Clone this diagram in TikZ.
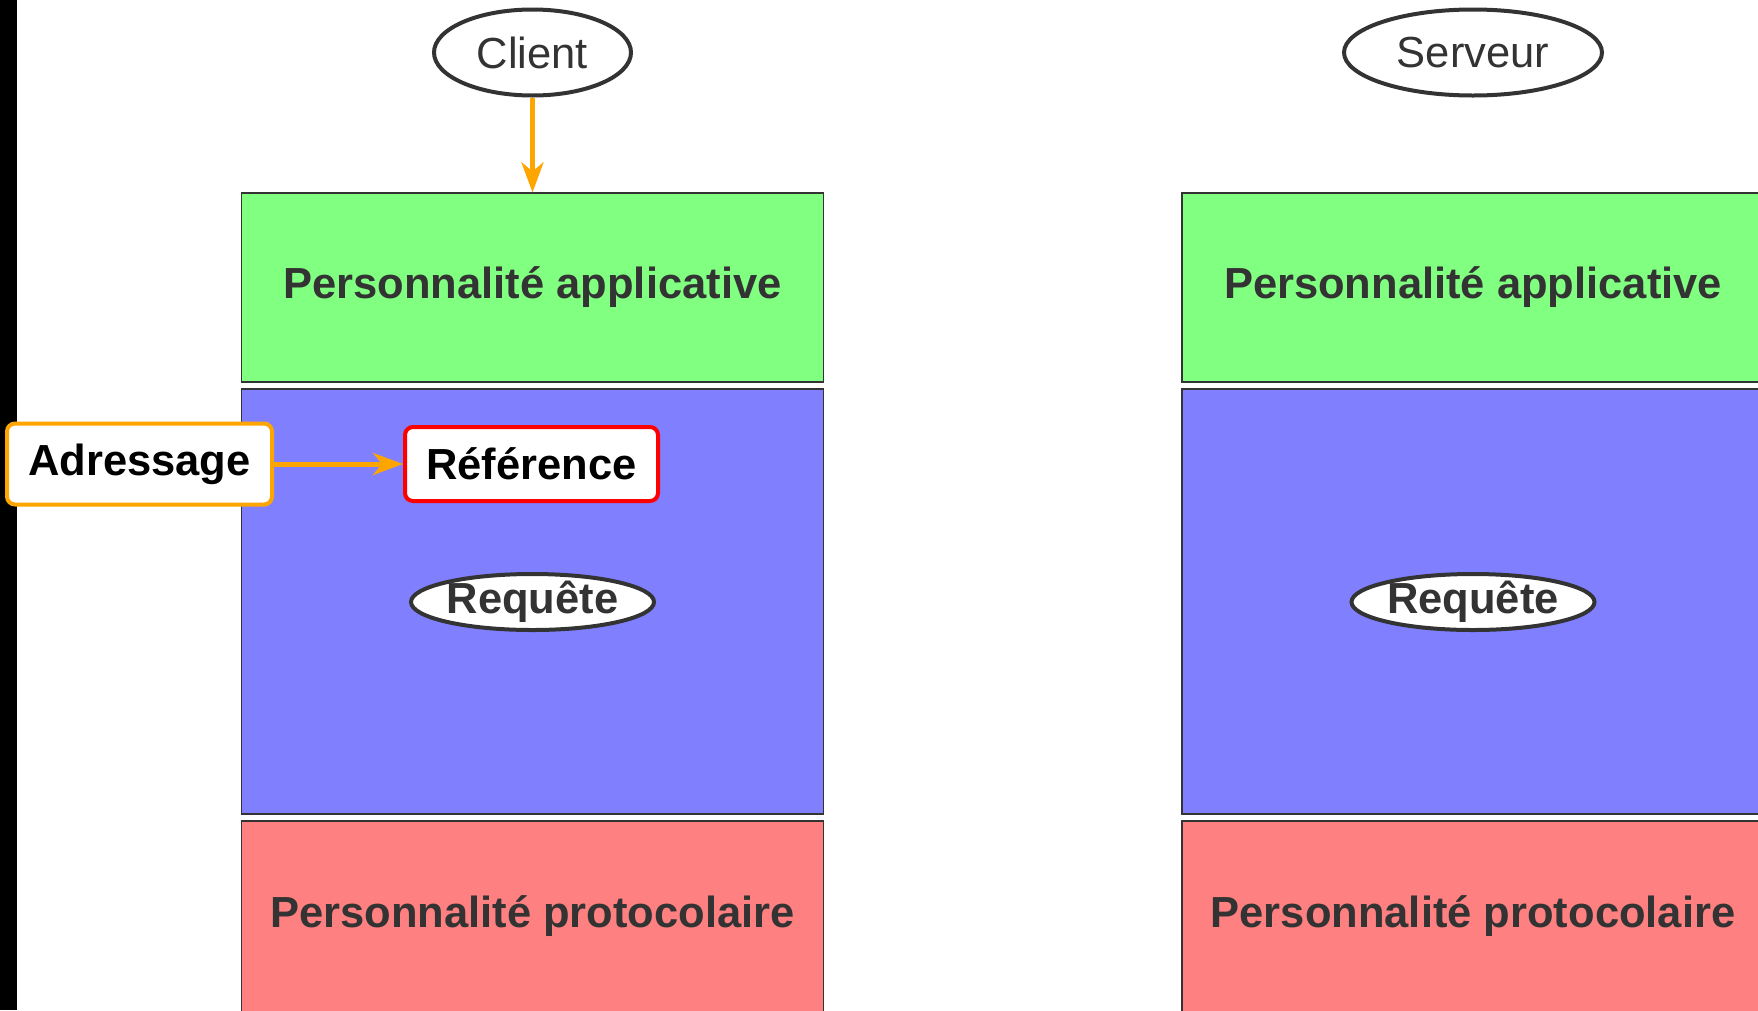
\documentclass[tikz,border=0pt]{standalone}
\usepackage{fontspec}
\setmainfont{Liberation Sans}
\usepackage{tikz}
\usetikzlibrary{arrows.meta,shapes.geometric}
\definecolor{txtgray}{HTML}{333333}
\definecolor{appgreen}{HTML}{80FF80}
\definecolor{reqblue}{HTML}{8080FF}
\definecolor{protored}{HTML}{FF8080}
\definecolor{arrorange}{HTML}{FFA500}

\begin{document}
\begin{tikzpicture}[x=1pt,y=1pt]
\tikzstyle{every node}+=[inner sep=0pt, text=txtgray, font=\fontsize{43.5}{52}\selectfont]
\tikzstyle{layer}=[rectangle, draw=txtgray, line width=1.2pt, minimum width=582pt, font=\fontsize{43.5}{52}\selectfont\bfseries]
\tikzstyle{actor}=[ellipse, draw=txtgray, line width=4pt, fill=white, inner ysep=-2pt]
\tikzstyle{tag}=[rectangle, rounded corners=8pt, line width=4pt, fill=white, text=black, font=\fontsize{43.5}{52}\selectfont\bfseries]
\tikzstyle{link}=[draw=arrorange, line width=5pt, -{Stealth[length=30pt,width=22pt,inset=9pt]}]
\useasboundingbox (0,0) rectangle (1758,-1010);
\clip (0,0) rectangle (1758,-1010);
\fill [black] (0,0) rectangle (17,-1010);
% client side
\node [actor, minimum width=197pt, minimum height=86pt] (client) at (532.5,-52.5) {Client};
\node [layer, fill=appgreen, minimum height=189pt] (appL) at (532.5,-287.5) {Personnalité applicative};
\node [layer, fill=reqblue, minimum height=425pt] (midL) at (532.5,-601.5) {};
\node [layer, fill=protored, minimum height=191pt] (protoL) at (532.5,-916.5) {Personnalité protocolaire};
\node [actor, minimum width=243pt, minimum height=56pt, font=\fontsize{43.5}{52}\selectfont\bfseries] (reqL) at (532.5,-602) {Requête};
\node [tag, draw=red, minimum width=253pt, minimum height=74pt] (ref) at (531.5,-464) {Référence};
\node [tag, draw=arrorange, minimum width=265pt, minimum height=81pt] (adr) at (139.5,-464) {Adressage};
\draw [link] (client.south) -- (appL.north);
\draw [link] (adr.east) -- (ref.west);
% server side
\node [actor, minimum width=258pt, minimum height=86pt] (server) at (1473,-52.5) {Serveur};
\node [layer, fill=appgreen, minimum height=189pt] (appR) at (1473,-287.5) {Personnalité applicative};
\node [layer, fill=reqblue, minimum height=425pt] (midR) at (1473,-601.5) {};
\node [layer, fill=protored, minimum height=191pt] (protoR) at (1473,-916.5) {Personnalité protocolaire};
\node [actor, minimum width=243pt, minimum height=56pt, font=\fontsize{43.5}{52}\selectfont\bfseries] (reqR) at (1473,-602) {Requête};
\end{tikzpicture}
\end{document}
